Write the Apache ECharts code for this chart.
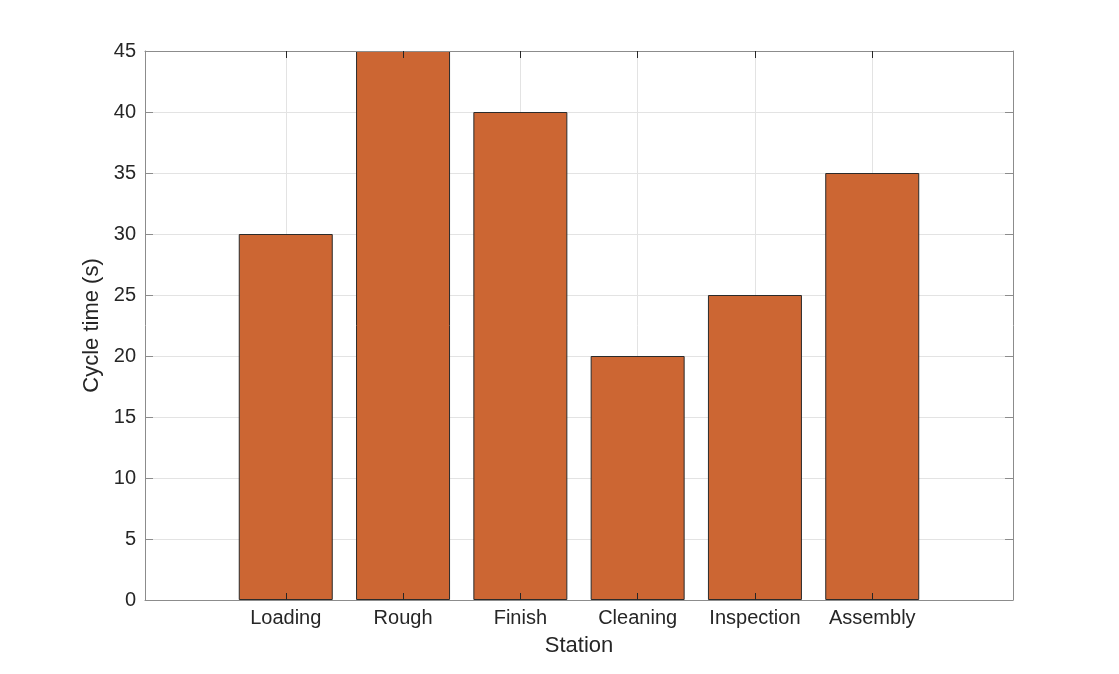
<!DOCTYPE html>
<html>
<head>
<meta charset="utf-8">
<script src="https://cdn.jsdelivr.net/npm/echarts@6/dist/echarts.min.js"></script>
<style>html,body{margin:0;padding:0;background:#fff;}#c{width:1119px;height:674px;}</style>
</head>
<body>
<div id="c"></div>
<script>
const categories = ['Loading', 'Rough', 'Finish', 'Cleaning', 'Inspection', 'Assembly'];
const cycleTimes = [30, 45, 40, 20, 25, 35];
const yTicks = [0, 5, 10, 15, 20, 25, 30, 35, 40, 45];

const positions = categories.map((_, i) => i + 1);
const barData = positions.map((p, i) => [p, cycleTimes[i]]);

const axisColor = '#8c8c8c';
const textColor = '#262626';
const gridColor = '#e3e3e3';
const font = 'Liberation Sans, Arial, sans-serif';

const xBase = {type: 'value', min: -0.2, max: 7.2};
const yBase = {type: 'value', min: 0, max: 45, interval: 5};

const chart = echarts.init(document.getElementById('c'), null, {renderer: 'canvas'});
chart.setOption({
  backgroundColor: '#ffffff',
  animation: false,
  grid: {left: 145, top: 51, right: 106, bottom: 74, show: false},
  xAxis: [Object.assign({}, xBase, {
    position: 'bottom', z: 5,
    name: 'Station', nameLocation: 'middle', nameGap: 35,
    nameTextStyle: {color: textColor, fontSize: 22, fontFamily: font},
    axisLine: {show: true, onZero: false, lineStyle: {color: axisColor, width: 1}},
    axisTick: {show: true, inside: true, length: 7, customValues: positions, lineStyle: {color: textColor, width: 1}},
    axisLabel: {customValues: positions, formatter: v => categories[Math.round(v) - 1] || '', color: textColor, fontSize: 20, fontFamily: font, margin: 8},
    splitLine: {show: false}
  }), Object.assign({}, xBase, {
    position: 'top', z: 5,
    axisLine: {show: true, onZero: false, lineStyle: {color: axisColor, width: 1}},
    axisTick: {show: true, inside: true, length: 7, customValues: positions, lineStyle: {color: textColor, width: 1}},
    axisLabel: {show: false, customValues: positions},
    splitLine: {show: false}
  }), Object.assign({}, xBase, {
    position: 'bottom', z: 0,
    axisLine: {show: false},
    axisTick: {show: false, customValues: positions},
    axisLabel: {show: false, customValues: positions},
    splitLine: {show: true, lineStyle: {color: gridColor, width: 1}}
  })],
  yAxis: [Object.assign({}, yBase, {
    position: 'left', z: 5,
    name: 'Cycle time (s)', nameLocation: 'middle', nameGap: 41, nameRotate: 90,
    nameTextStyle: {color: textColor, fontSize: 22, fontFamily: font},
    axisLine: {show: true, onZero: false, lineStyle: {color: axisColor, width: 1}},
    axisTick: {show: true, inside: true, length: 8, lineStyle: {color: axisColor, width: 1}},
    axisLabel: {color: textColor, fontSize: 20, fontFamily: font, margin: 9, formatter: v => yTicks.includes(v) ? String(v) : ''},
    splitLine: {show: false}
  }), Object.assign({}, yBase, {
    position: 'right', z: 5,
    axisLine: {show: true, onZero: false, lineStyle: {color: axisColor, width: 1}},
    axisTick: {show: true, inside: true, length: 8, lineStyle: {color: axisColor, width: 1}},
    axisLabel: {show: false},
    splitLine: {show: false}
  }), Object.assign({}, yBase, {
    position: 'left', z: 0,
    axisLine: {show: false},
    axisTick: {show: false},
    axisLabel: {show: false},
    splitLine: {show: true, lineStyle: {color: gridColor, width: 1}}
  })],
  series: [{
    type: 'bar',
    xAxisIndex: 0, yAxisIndex: 0,
    data: barData,
    barWidth: 94,
    itemStyle: {color: '#cc6633', borderColor: '#2b2b2b', borderWidth: 1},
    z: 2
  }]
});
</script>
</body>
</html>
